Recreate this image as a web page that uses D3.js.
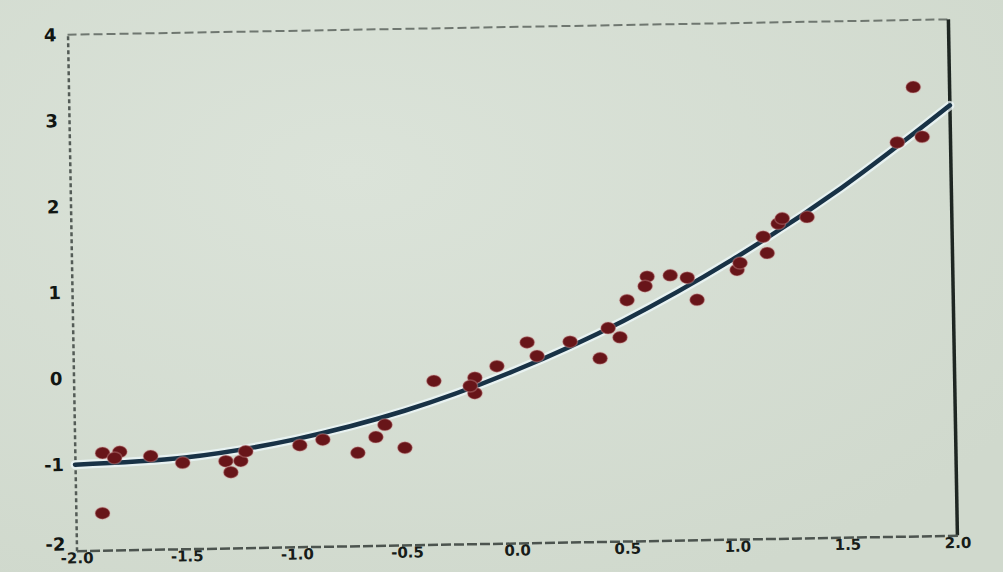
<!DOCTYPE html>
<html>
<head>
<meta charset="utf-8">
<script src="https://cdn.jsdelivr.net/npm/d3@7"></script>
<style>
  html, body { margin: 0; padding: 0; background: #d5ddd2; }
  svg { display: block; }
</style>
</head>
<body>
<svg id="chart" width="1003" height="572"></svg>
<script>
// Observations (x, y)
const obsX = [-1.874, -1.796, -1.82, -1.656, -1.511, -1.315, -1.293, -1.247, -1.224, -0.978,
              -0.873, -0.715, -0.632, -0.59, -0.501, -1.879, -0.364, -0.178, -0.179, -0.2,
              -0.077, 0.062, 0.106, 0.257, 0.392, 0.431, 0.484, 0.519, 0.612, 0.602,
              0.717, 0.794, 0.837, 1.021, 1.035, 1.159, 1.142, 1.211, 1.23, 1.343,
              1.758, 1.872, 1.835];
const obsY = [-0.87, -0.86, -0.93, -0.915, -1.0, -0.99, -1.12, -0.99, -0.88, -0.82,
              -0.76, -0.92, -0.74, -0.6, -0.87, -1.57, -0.1, -0.07, -0.25, -0.165,
              0.06, 0.33, 0.17, 0.33, 0.13, 0.48, 0.37, 0.8, 1.07, 0.96,
              1.08, 1.05, 0.79, 1.13, 1.21, 1.32, 1.51, 1.66, 1.72, 1.73,
              2.58, 2.64, 3.22];

// Fitted curve, read at evenly spaced x
const fitX = [-2, -1.5, -1, -0.5, 0, 0.5, 1, 1.5, 2];
const fitY = [-1, -0.94, -0.75, -0.44, 0, 0.56, 1.25, 2.06, 3];

// Axis tick values and labels
const xTicks = [-2, -1.5, -1, -0.5, 0, 0.5, 1, 1.5, 2];
const xTickLabels = ["-2.0", "-1.5", "-1.0", "-0.5", "0.0", "0.5", "1.0", "1.5", "2.0"];
const yTicks = [-2, -1, 0, 1, 2, 3, 4];
const yTickLabels = ["-2", "-1", "0", "1", "2", "3", "4"];

const svg = d3.select("#chart");
const W = 1003, H = 572;

// soft paper background
const defs = svg.append("defs");
const bg = defs.append("radialGradient").attr("id", "paper")
  .attr("cx", "35%").attr("cy", "30%").attr("r", "80%");
bg.append("stop").attr("offset", "0%").attr("stop-color", "#dbe3d9");
bg.append("stop").attr("offset", "100%").attr("stop-color", "#d0d9cd");
svg.append("rect").attr("width", W).attr("height", H).attr("fill", "url(#paper)");

const g = svg.append("g").attr("transform", "rotate(-1, 513, 287)");

const x = d3.scaleLinear().domain([-2, 2]).range([72, 953]);
const y = d3.scaleLinear().domain([-2, 4]).range([543, 27]);

// frame: dashed top, solid right
g.append("line")
  .attr("x1", x(-2)).attr("x2", x(2)).attr("y1", y(4)).attr("y2", y(4))
  .attr("stroke", "#6f7770").attr("stroke-width", 2).attr("stroke-dasharray", "9 4");
g.append("line")
  .attr("x1", x(2)).attr("x2", x(2)).attr("y1", y(4)).attr("y2", y(-2))
  .attr("stroke", "#1e2622").attr("stroke-width", 3.5);

// bottom axis
const xAxis = d3.axisBottom(x).tickValues(xTicks)
  .tickFormat((d, i) => xTickLabels[i]).tickSize(0).tickPadding(2);
const gx = g.append("g").attr("transform", `translate(0,${y(-2)})`).call(xAxis);
gx.select(".domain").attr("stroke", "#4c544f").attr("stroke-width", 2.5)
  .attr("stroke-dasharray", "10 3");
gx.selectAll("text")
  .attr("font-family", "DejaVu Sans, sans-serif").attr("font-size", 15)
  .attr("font-weight", "bold").attr("fill", "#171c19");

// left axis
const yAxis = d3.axisLeft(y).tickValues(yTicks)
  .tickFormat((d, i) => yTickLabels[i]).tickSize(0).tickPadding(11);
const gy = g.append("g").attr("transform", `translate(${x(-2)},0)`).call(yAxis);
gy.select(".domain").attr("stroke", "#535b56").attr("stroke-width", 2.5)
  .attr("stroke-dasharray", "4 3");
gy.selectAll("text")
  .attr("font-family", "DejaVu Sans, sans-serif").attr("font-size", 18)
  .attr("font-weight", "bold").attr("fill", "#111613");
// lift the lowest label clear of the x-axis labels
gy.selectAll(".tick").filter(d => d === -2).select("text").attr("dy", "-0.05em");

// fitted curve with a light halo
const fitPts = fitX.map((d, i) => [d, fitY[i]]);
const line = d3.line().x(d => x(d[0])).y(d => y(d[1])).curve(d3.curveMonotoneX);
g.append("path").datum(fitPts).attr("d", line)
  .attr("fill", "none").attr("stroke", "#eef8fb").attr("stroke-width", 9)
  .attr("stroke-opacity", 0.75).attr("stroke-linecap", "round");
g.append("path").datum(fitPts).attr("d", line)
  .attr("fill", "none").attr("stroke", "#183246").attr("stroke-width", 4.5)
  .attr("stroke-linecap", "round");

// observations
const pts = obsX.map((d, i) => [d, obsY[i]]);
g.append("g").selectAll("ellipse").data(pts).join("ellipse")
  .attr("cx", d => x(d[0])).attr("cy", d => y(d[1]))
  .attr("rx", 7.5).attr("ry", 6)
  .attr("fill", "#681519")
  .attr("stroke", "#d9a4a4").attr("stroke-opacity", 0.35).attr("stroke-width", 1.5);
</script>
</body>
</html>
